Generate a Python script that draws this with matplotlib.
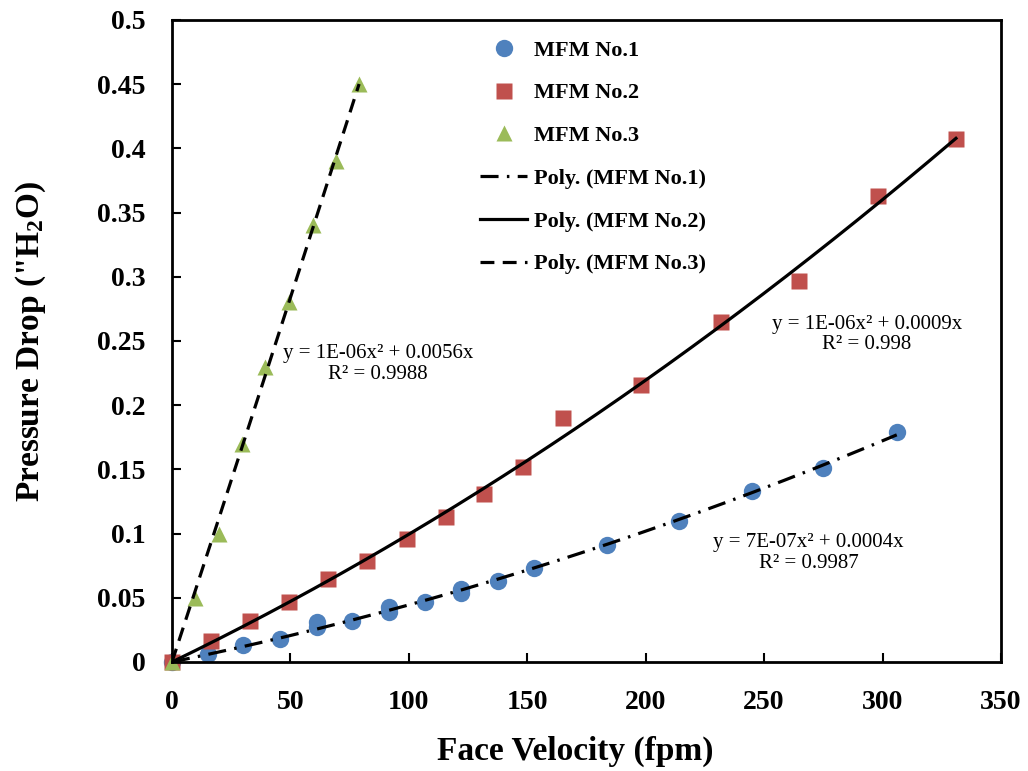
import numpy as np
import matplotlib
matplotlib.use("Agg")
import matplotlib.pyplot as plt

plt.rcParams['font.family'] = ['Liberation Serif', 'DejaVu Serif']
plt.rcParams['font.weight'] = 'bold'
plt.rcParams['mathtext.fontset'] = 'custom'
plt.rcParams['mathtext.rm'] = 'Liberation Serif:bold'
plt.rcParams['mathtext.default'] = 'rm'
plt.rcParams['lines.scale_dashes'] = False

# data
v1 = [0, 15.3, 30.1, 45.8, 61.2, 61.2, 76.2, 91.6, 91.6, 107, 122, 122,
      137.5, 152.8, 183.5, 214, 244.7, 275, 306]
p1 = [0, 0.006, 0.013, 0.018, 0.027, 0.031, 0.032, 0.039, 0.043, 0.047,
      0.054, 0.057, 0.063, 0.073, 0.091, 0.110, 0.133, 0.151, 0.179]

v2 = [0, 16.3, 33, 49.2, 66, 82.3, 99.2, 115.7, 131.9, 148.4, 165, 198,
      231.6, 264.6, 298, 331]
p2 = [0, 0.016, 0.032, 0.047, 0.065, 0.079, 0.096, 0.113, 0.131, 0.152,
      0.19, 0.216, 0.265, 0.297, 0.363, 0.407]

v3 = [0, 9.8, 19.7, 29.5, 39.3, 49.3, 59.4, 69.2, 79]
p3 = [0, 0.05, 0.1, 0.17, 0.23, 0.28, 0.34, 0.39, 0.45]

names = ['MFM No.1', 'MFM No.2', 'MFM No.3']
eqs = ['y = 7E-07x\u00b2 + 0.0004x\nR\u00b2 = 0.9987',
       'y = 1E-06x\u00b2 + 0.0009x\nR\u00b2 = 0.998',
       'y = 1E-06x\u00b2 + 0.0056x\nR\u00b2 = 0.9988']
eq_pos = [(268.8, 0.085), (293.3, 0.255), (87, 0.232)]

colors = ['#4F81BD', '#C0504D', '#9BBB59']
markers = ['o', 's', '^']
msizes = [12.5, 11, 12]
dashes = [(0, (13, 6, 1.8, 6)), '-', (0, (10, 6))]


def poly_fit(x, y):
    # 2nd order, intercept set to 0 (like the Excel trendline)
    x = np.asarray(x, float)
    y = np.asarray(y, float)
    A = np.column_stack([x ** 2, x])
    c = np.linalg.lstsq(A, y, rcond=None)[0]
    xs = np.linspace(0, x.max(), 200)
    return xs, c[0] * xs ** 2 + c[1] * xs


fig = plt.figure(figsize=(10.28, 7.71), dpi=100)
ax = fig.add_axes([0.1673, 0.1414, 0.8064, 0.8327])

series = [(v1, p1), (v2, p2), (v3, p3)]
pts = []
lines = []
for i, (x, y) in enumerate(series):
    h, = ax.plot(x, y, linestyle='none', marker=markers[i], ms=msizes[i],
                 color=colors[i], mec='none', zorder=2, clip_on=False)
    pts.append(h)
for i, (x, y) in enumerate(series):
    xs, ys = poly_fit(x, y)
    l, = ax.plot(xs, ys, color='black', lw=2.3, linestyle=dashes[i], zorder=3)
    lines.append(l)
    ax.text(eq_pos[i][0], eq_pos[i][1], eqs[i], ha='center', va='center',
            fontsize=15, fontweight='normal', linespacing=1.1)

ax.set_xlim(0, 350)
ax.set_ylim(0, 0.5)
ax.set_xticks(np.arange(0, 351, 50))
ax.set_yticks(np.arange(0, 0.51, 0.05))
ax.set_yticklabels(['0', '0.05', '0.1', '0.15', '0.2', '0.25', '0.3',
                    '0.35', '0.4', '0.45', '0.5'])
ax.tick_params(direction='in', length=6.5, width=1.5, labelsize=20)
ax.tick_params(axis='x', pad=20)
ax.tick_params(axis='y', pad=19)
for s in ax.spines.values():
    s.set_linewidth(2)

ax.set_xlabel('Face Velocity (fpm)', fontsize=24, fontweight='bold')
ax.set_ylabel('Pressure Drop ("H$_2$O)', fontsize=24, fontweight='bold')
ax.xaxis.set_label_coords(0.486, -0.115)
ax.yaxis.set_label_coords(-0.15, 0.5)

labels = names + ['Poly. (' + n + ')' for n in names]
ax.legend(pts + lines, labels, loc='upper left', bbox_to_anchor=(0.348, 1.0),
          frameon=False, fontsize=16, handlelength=2.1, labelspacing=1.0,
          handletextpad=0.3, numpoints=1)

fig.savefig('out.png', dpi=100)
